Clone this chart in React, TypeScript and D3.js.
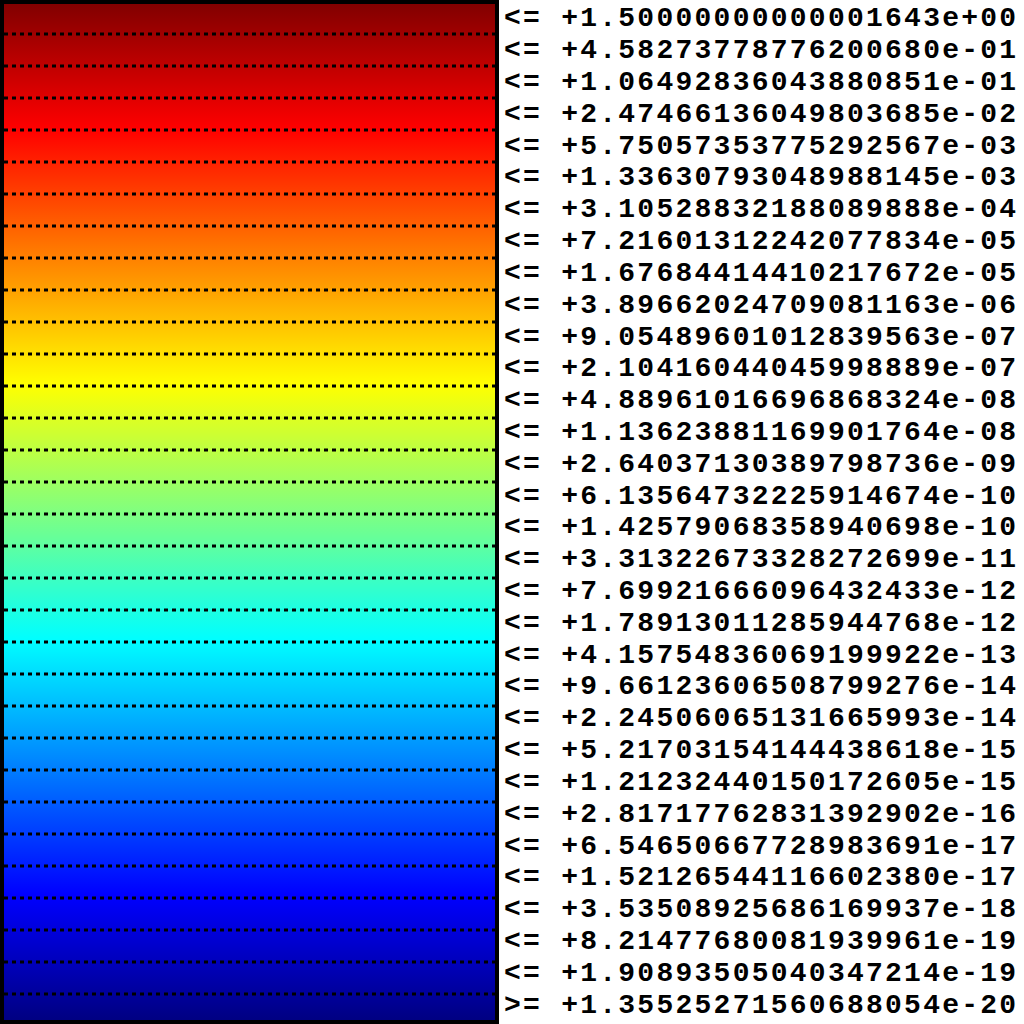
import { useEffect, useRef } from "react"
import * as d3 from "d3"

const thresholds = [
  "<= +1.50000000000001643e+00",
  "<= +4.58273778776200680e-01",
  "<= +1.06492836043880851e-01",
  "<= +2.47466136049803685e-02",
  "<= +5.75057353775292567e-03",
  "<= +1.33630793048988145e-03",
  "<= +3.10528832188089888e-04",
  "<= +7.21601312242077834e-05",
  "<= +1.67684414410217672e-05",
  "<= +3.89662024709081163e-06",
  "<= +9.05489601012839563e-07",
  "<= +2.10416044045998889e-07",
  "<= +4.88961016696868324e-08",
  "<= +1.13623881169901764e-08",
  "<= +2.64037130389798736e-09",
  "<= +6.13564732225914674e-10",
  "<= +1.42579068358940698e-10",
  "<= +3.31322673328272699e-11",
  "<= +7.69921666096432433e-12",
  "<= +1.78913011285944768e-12",
  "<= +4.15754836069199922e-13",
  "<= +9.66123606508799276e-14",
  "<= +2.24506065131665993e-14",
  "<= +5.21703154144438618e-15",
  "<= +1.21232440150172605e-15",
  "<= +2.81717762831392902e-16",
  "<= +6.54650667728983691e-17",
  "<= +1.52126544116602380e-17",
  "<= +3.53508925686169937e-18",
  "<= +8.21477680081939961e-19",
  "<= +1.90893505040347214e-19",
  ">= +1.35525271560688054e-20",
]

// jet colormap control points (value 0 = bottom, 1 = top)
const jetStops = [0, 0.125, 0.375, 0.625, 0.875, 1]
const jetColors = ["#000080", "#0000ff", "#00ffff", "#ffff00", "#ff0000", "#800000"]

export default function App() {
  const svgRef = useRef<SVGSVGElement>(null)

  useEffect(() => {
    if (!svgRef.current) return
    const svg = d3.select(svgRef.current)
    svg.selectAll("*").remove()

    const barLeft = 2
    const barRight = 497
    const top = 2
    const bottom = 1022

    // separators sit on a 32px grid
    const yBand = d3
      .scaleBand()
      .domain(thresholds)
      .range([top, top + thresholds.length * 32])

    // labels are spread a touch tighter so the last one fits
    const yLabel = d3.scaleBand().domain(thresholds).range([top, 1020])

    const jet = d3.scaleLinear<string>().domain(jetStops).range(jetColors)

    const grad = svg
      .append("defs")
      .append("linearGradient")
      .attr("id", "jet")
      .attr("x1", 0)
      .attr("y1", 0)
      .attr("x2", 0)
      .attr("y2", 1)

    const samples = d3.range(0, 1.0001, 0.025)
    grad
      .selectAll("stop")
      .data(samples)
      .enter()
      .append("stop")
      .attr("offset", (d) => d)
      .attr("stop-color", (d) => jet(1 - d))

    svg
      .append("rect")
      .attr("x", barLeft)
      .attr("y", top)
      .attr("width", barRight - barLeft)
      .attr("height", bottom - top)
      .attr("fill", "url(#jet)")

    // dotted separators
    svg
      .selectAll(".sep")
      .data(thresholds.slice(1))
      .enter()
      .append("line")
      .attr("class", "sep")
      .attr("x1", barLeft + 2)
      .attr("x2", barRight - 2)
      .attr("y1", (d) => yBand(d) || 0)
      .attr("y2", (d) => yBand(d) || 0)
      .attr("stroke", "#000")
      .attr("stroke-width", 3)
      .attr("stroke-dasharray", "4,4")

    // border
    svg
      .append("rect")
      .attr("x", barLeft)
      .attr("y", top)
      .attr("width", barRight - barLeft)
      .attr("height", bottom - top)
      .attr("fill", "none")
      .attr("stroke", "#000")
      .attr("stroke-width", 4)

    // labels
    svg
      .selectAll(".label")
      .data(thresholds)
      .enter()
      .append("text")
      .attr("class", "label")
      .attr("x", 504)
      .attr("y", (d) => (yLabel(d) || 0) + yLabel.bandwidth() / 2 + 8.5)
      .attr("font-family", "'Liberation Mono', 'Courier New', monospace")
      .attr("font-weight", "bold")
      .attr("font-size", "28px")
      .attr("letter-spacing", "2.25px")
      .attr("fill", "#000")
      .attr("xml:space", "preserve")
      .text((d) => d)
  }, [])

  return (
    <svg
      ref={svgRef}
      width={1024}
      height={1024}
      style={{ position: "absolute", left: 0, top: 0, background: "#fff", display: "block" }}
    />
  )
}
